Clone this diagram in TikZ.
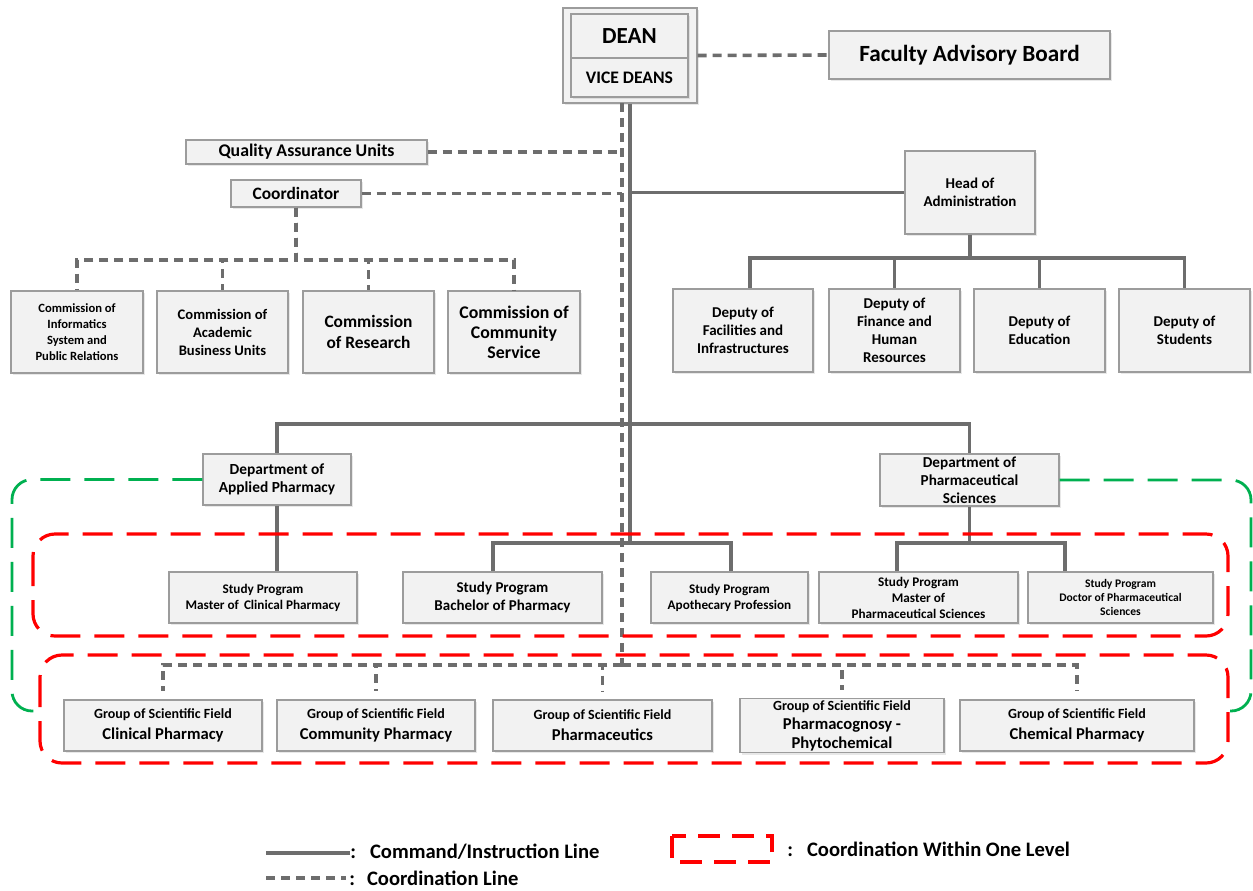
\documentclass[tikz,border=0pt]{standalone}
\usepackage{fontspec}
\setmainfont{Carlito}
\usetikzlibrary{shadows}

\definecolor{lineGray}{HTML}{6D6D6D}
\definecolor{boxGray}{HTML}{9C9C9C}
\definecolor{boxFill}{HTML}{F2F2F2}
\definecolor{lvlRed}{HTML}{FF0000}
\definecolor{facGreen}{HTML}{00B050}
\newcommand{\fsz}[2]{\fontsize{#1}{#2}\selectfont\bfseries}

\tikzset{
  unit/.style={draw=boxGray, line width=0.7pt, fill=boxFill, align=center, inner sep=1pt,
    drop shadow={opacity=0.18, shadow xshift=1pt, shadow yshift=-1pt}},
  cmdline/.style={draw=lineGray, line width=1.8pt},
  coordline/.style={draw=lineGray, line width=1.8pt, dash pattern=on 4.5pt off 3pt},
  levelbox/.style={draw=lvlRed, line width=1.6pt, dash pattern=on 15pt off 7pt, rounded corners=11pt},
  facline/.style={draw=facGreen, line width=1.4pt, dash pattern=on 15pt off 7pt, rounded corners=10pt},
  legend/.style={anchor=west, inner sep=0pt, font=\fsz{10.3}{12}},
}

\begin{document}
\begin{tikzpicture}[x=0.5pt,y=-0.5pt]
  \useasboundingbox (0,0) rectangle (1253,890);

  % top of the faculty
  \node[unit, minimum width=67pt, minimum height=47.5pt] (deanbox) at (630,55.5) {};
  \node[unit, minimum width=58.5pt, minimum height=22pt, font=\fsz{11.5}{13}] (dean) at (629.5,36) {DEAN};
  \node[unit, minimum width=58.5pt, minimum height=19.5pt, font=\fsz{8.8}{10}] (vice) at (629.5,77.5) {VICE DEANS};
  \node[unit, minimum width=140.5pt, minimum height=24pt, font=\fsz{11.6}{13}] (fab) at (969.5,55) {Faculty Advisory Board};

  \node[unit, minimum width=120.5pt, minimum height=12pt, font=\fsz{8.9}{10}] (qau) at (306.5,152) {Quality Assurance Units};
  \node[unit, minimum width=65pt, minimum height=13.5pt, font=\fsz{8.7}{10}] (coord) at (296,193.5) {Coordinator};
  \node[unit, minimum width=65pt, minimum height=41.5pt, font=\fsz{7.5}{9}] (hoa) at (970,192.5) {Head of\\Administration};

  % commissions
  \node[unit, minimum width=66pt, minimum height=41pt, font=\fsz{6.3}{8}] (cinf) at (77,332) {Commission of\\Informatics\\System and\\Public Relations};
  \node[unit, minimum width=65.5pt, minimum height=41pt, font=\fsz{7.3}{9}] (cacad) at (222.5,332) {Commission of\\Academic\\Business Units};
  \node[unit, minimum width=65.5pt, minimum height=41pt, font=\fsz{8.7}{10.5}] (cres) at (368.5,332) {Commission\\of Research};
  \node[unit, minimum width=66pt, minimum height=41pt, font=\fsz{8.9}{10}] (ccom) at (514,332) {Commission of\\Community\\Service};

  % deputies
  \node[unit, minimum width=70pt, minimum height=41.5pt, font=\fsz{7.5}{9}] (dfac) at (743,330.5) {Deputy of\\Facilities and\\Infrastructures};
  \node[unit, minimum width=65.5pt, minimum height=41.5pt, font=\fsz{7.5}{9}] (dfin) at (894.5,330.5) {Deputy of\\Finance and\\Human\\Resources};
  \node[unit, minimum width=65.5pt, minimum height=41.5pt, font=\fsz{7.5}{9}] (dedu) at (1039.5,330.5) {Deputy of\\Education};
  \node[unit, minimum width=65.5pt, minimum height=41.5pt, font=\fsz{7.5}{9}] (dstu) at (1184.5,330.5) {Deputy of\\Students};

  % departments
  \node[unit, minimum width=74pt, minimum height=25.5pt, font=\fsz{7.7}{9}] (dapp) at (277,479.5) {Department of\\Applied Pharmacy};
  \node[unit, minimum width=89.5pt, minimum height=26pt, font=\fsz{7.6}{9}] (dsci) at (969.5,480) {Department of\\Pharmaceutical\\Sciences};

  % study programs
  \node[unit, minimum width=94pt, minimum height=25.5pt, font=\fsz{6.6}{8}] (spclin) at (263,597.5) {Study Program\\Master of\, Clinical Pharmacy};
  \node[unit, minimum width=99.5pt, minimum height=25.5pt, font=\fsz{7.5}{9}] (spbach) at (502.5,597.5) {Study Program\\Bachelor of Pharmacy};
  \node[unit, minimum width=78.5pt, minimum height=25.5pt, font=\fsz{6.6}{8}] (spapo) at (729.5,597.5) {Study Program\\Apothecary Profession};
  \node[unit, minimum width=99.5pt, minimum height=25.5pt, font=\fsz{6.6}{8}] (spmps) at (918.5,597.5) {Study Program\\Master of\\Pharmaceutical Sciences};
  \node[unit, minimum width=92.5pt, minimum height=25.5pt, font=\fsz{5.8}{7}] (spdoc) at (1120.5,597.5) {Study Program\\Doctor of Pharmaceutical\\Sciences};

  % groups of scientific field
  \node[unit, minimum width=99pt, minimum height=25.5pt, font=\fsz{8.3}{10.5}] (gclin) at (163,725.5) {{\fsz{7}{10.5}Group of Scientific Field}\\Clinical Pharmacy};
  \node[unit, minimum width=99pt, minimum height=25.5pt, font=\fsz{8.3}{10.5}] (gcom) at (376,725.5) {{\fsz{7}{10.5}Group of Scientific Field}\\Community Pharmacy};
  \node[unit, minimum width=109.5pt, minimum height=25.5pt, font=\fsz{8.3}{10.5}] (gpce) at (602.5,725.5) {{\fsz{7}{10.5}Group of Scientific Field}\\Pharmaceutics};
  \node[unit, minimum width=102pt, minimum height=25.5pt, font=\fsz{8.3}{9.5}] (gpco) at (842,725.5) {{\fsz{7}{9.5}Group of Scientific Field}\\Pharmacognosy -\\Phytochemical};
  \node[unit, minimum width=117pt, minimum height=25.5pt, font=\fsz{8.3}{10.5}] (gchem) at (1077,725.5) {{\fsz{7}{10.5}Group of Scientific Field}\\Chemical Pharmacy};

  % spines and buses
  \coordinate (ctop) at (622,103);
  \coordinate (gbus) at (622,665);
  \coordinate (hbus) at (970,258);
  \coordinate (cbus) at (296,260);
  \coordinate (dbus) at (630,424);
  \coordinate (spbus) at (630,543);
  \coordinate (psbus) at (969.5,543);

  % coordination lines
  \draw[coordline] (deanbox.east) -- (fab.west);
  \draw[coordline] (ctop) -- (gbus);
  \draw[coordline] (qau.east) -- (qau.east -| ctop);
  \draw[coordline] (coord.east) -- (coord.east -| ctop);
  \foreach \c in {cinf,cacad,cres,ccom}
    \draw[coordline] (coord.south) -- (cbus) -| (\c.north);
  \foreach \g in {gclin,gcom,gpce,gpco,gchem}
    \draw[coordline, shorten >=4pt] (gbus) -| (\g.north);

  % command lines
  \draw[cmdline] (deanbox.south) -- (spbus);
  \draw[cmdline] (hoa.west -| deanbox.south) -- (hoa.west);
  \draw[cmdline] (hoa.south) -- (hbus) -| ([xshift=3.5pt]dfac.north);
  \foreach \d in {dfin,dedu,dstu}
    \draw[cmdline] (hbus) -| (\d.north);
  \draw[cmdline] (dbus) -| (dapp.north);
  \draw[cmdline] (dbus) -| (dsci.north);
  \draw[cmdline] (dapp.south) -- (dapp.south |- spclin.north);
  \draw[cmdline] (spbus) -| ([xshift=-4.75pt]spbach.north);
  \draw[cmdline] (spbus) -| ([xshift=0.75pt]spapo.north);
  \draw[cmdline] (dsci.south) -- (psbus) -| ([xshift=-10.75pt]spmps.north);
  \draw[cmdline] (psbus) -| ([xshift=-27.75pt]spdoc.north);

  % coordination within one level
  \draw[levelbox] (33,534) rectangle (1228,636);
  \draw[levelbox] (40,655) rectangle (1228,763);
  \draw[facline] (dapp.west) -- (12,479.5) -- (12,711) -- (40,711);
  \draw[facline] (dsci.east) -- (1251,480) -- (1251,711) -- (1228,711);

  % legend
  \node[legend] (lgcmd) at (350,852) {:\hspace{7pt}Command/Instruction Line};
  \node[legend] (lgcoo) at (349,878) {:\hspace{6pt}Coordination Line};
  \node[legend] (lglvl) at (787,849) {:\hspace{7pt}Coordination Within One Level};
  \coordinate (lgc) at (266,853);
  \coordinate (lgd) at (266,878);
  \draw[cmdline] (lgc) -- (lgc -| lgcmd.west);
  \draw[coordline] (lgd) -- ([xshift=-1.5pt]lgd -| lgcoo.west);
  \draw[draw=lvlRed, line width=1.6pt, dash pattern=on 11pt off 6pt] (672,836) rectangle (772,862);
\end{tikzpicture}
\end{document}
